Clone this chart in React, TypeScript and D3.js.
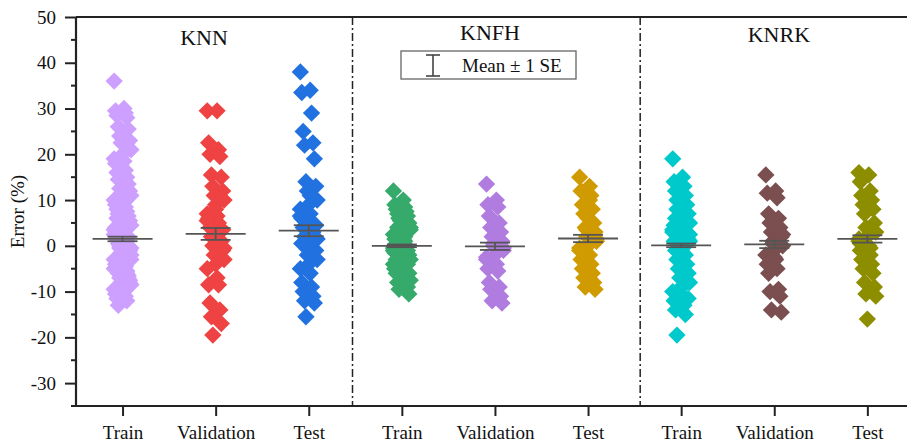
import React, { useEffect, useRef } from "react";
import * as d3 from "d3";

// groups and categories
const models = ["KNN", "KNFH", "KNRK"];
const categories = ["Train", "Validation", "Test"];

// error values (%), one array per model/category
const knnTrain = [36, 30, 29.5, 29, 28.5, 28, 26, 25.5, 24, 23, 22.5, 21, 20, 19, 18.5, 18, 16.5, 16, 15, 14.5, 13.5, 12.5, 12, 11.5, 11, 10.5, 10, 9.5, 9, 8.5, 8, 7.5, 7, 6.5, 6, 5.5, 5, 4.5, 4, 3.5, 3, 2.5, 2, 1.5, 1, 0.5, 0, -0.5, -1, -1.5, -2, -2.5, -3, -3.5, -4, -4.5, -5, -5.5, -6, -6.5, -7, -7.5, -8, -8.5, -9, -9.5, -10, -10.5, -11, -11.5, -12, -13, 2, 0, -1, 3, -3, 5, -5, 1, 4, -2, 6, -6, 7, -7, 8, -8, 1.5, -0.5, 0.5, 2.5];
const knnValidation = [29.5, 29.5, 22.5, 21, 20, 19.5, 15.5, 15, 13, 12, 11, 10, 9, 7, 6.5, 6, 5, 4, 3, 2, 1, 0, -1, -2, -3, -4, -5, -7, -8.5, -8.5, -12.5, -14, -15.5, -17, -19.5, 3.5, 1.5, -0.5, 8, 5.5];
const knnTest = [38, 34, 33.5, 29, 25, 22.5, 22, 19, 14, 13, 12, 10, 9, 8, 7, 6, 5, 4, 3, 2, 1, 0, -1, -2, -3, -4, -5, -6, -8, -9, -10, -11, -12, -12.5, -15.5, 4.5, 2.5, 1.5, -0.5, 6.5, 11, 0.5];
const knfhTrain = [12, 10, 9, 8.5, 8, 7.5, 7, 6.5, 6, 5, 4.5, 4, 3, 2.5, 2, 1.5, 1, 0.5, 0, -0.5, -1, -1.5, -2, -2.5, -3, -3.5, -4, -4.5, -5, -5.5, -6, -7, -8, -9, -9.5, -10.5, 5.5, 3.5, 1, -1, -3, -5, 2, 0, -2, 4, -4, 6, -6, 7.5, -7.5, 0.5, -0.5, 1.5, -1.5, 3, -3];
const knfhValidation = [13.5, 10, 9, 8.5, 6.5, 5, 4, 3, 2, 1, 0, -1, -2, -3, -4, -5, -5.5, -8, -9, -9.5, -11, -12, -12.5, 0.5, -0.5, 2.5, -2.5];
const knfhTest = [15, 13, 12, 11, 9, 8, 7, 5, 4, 3, 2, 1.5, 0, -1, -2, -3, -4, -5, -6, -7, -8, -9, -9.5, 3.5, 1, 6, -0.5, 10];
const knrkTrain = [19, 15, 14, 13, 12, 11, 10, 9, 8, 7, 6, 5, 4, 3, 2, 1, 0, -1, -2, -3, -4, -5, -6, -7, -8, -9, -10, -11, -12, -13, -14, -15, -19.5, 0.5, -0.5, 1.5, -1.5, 2.5, -2.5, 3.5, -3.5, 4.5, -4.5, 6, -6, 8, -8, 11.5, -11.5, 0, 1, -1];
const knrkValidation = [15.5, 12, 11.5, 10.5, 7, 6, 5, 4, 3, 2, 1, 0, -1, -2, -3, -4, -5, -6, -9.5, -10, -11, -14, -14.5, 0.5, 2.5, -2.5];
const knrkTest = [16, 15.5, 14, 12, 11, 10, 9, 8, 7, 5, 4, 3, 2, 1, 0, -1, -2, -3, -4, -5, -6, -8, -9, -10.5, -11, -16, 1.5, 2.5, 0.5, -0.5];

// mean and standard error
const means = [1.5, 2.6, 3.3, 0, -0.1, 1.6, 0.1, 0.3, 1.5];
const stdErrs = [0.5, 1.3, 1.2, 0.3, 0.8, 0.8, 0.4, 0.8, 0.8];

const colors = ["#cd9fff", "#ef4242", "#2172e0", "#36aa6b", "#b07ce0", "#d09b00", "#00c9cc", "#7b4f4f", "#8d8d00"];

const yTicks = [-30, -20, -10, 0, 10, 20, 30, 40, 50];
const separators = [3.47, 6.56];

const series = [knnTrain, knnValidation, knnTest, knfhTrain, knfhValidation, knfhTest, knrkTrain, knrkValidation, knrkTest];

const W = 907, H = 444;
const FONT = "'Liberation Serif', 'Times New Roman', serif";

const App = () => {
  const ref = useRef<SVGSVGElement>(null);

  useEffect(() => {
    const svg = d3.select(ref.current);
    svg.selectAll("*").remove();

    const left = 76, top = 17, bottom = 406;
    const x = d3.scaleLinear().domain([0.5, 9.5]).range([left, left + 9 * 93.1]);
    const y = d3.scaleLinear().domain([-35, 50]).range([bottom, top]);

    // points
    const diamond = d3.symbol().type(d3.symbolSquare).size(150)();
    series.forEach((vals, gi) => {
      const cx = x(gi + 1);
      svg
        .append("g")
        .selectAll("path")
        .data(vals)
        .join("path")
        .attr("d", diamond)
        .attr("fill", colors[gi])
        .attr("transform", (d, i) => {
          const off = (((i * 7) % 13) - 6) * 1.4;
          return `translate(${cx + off},${y(d)}) rotate(45)`;
        });
    });

    // mean +/- SE
    const eb = svg.append("g").attr("stroke", "#555").attr("stroke-width", 1.8);
    means.forEach((m, gi) => {
      const cx = x(gi + 1);
      const se = stdErrs[gi];
      eb.append("line").attr("x1", cx - 30).attr("x2", cx + 30).attr("y1", y(m)).attr("y2", y(m));
      eb.append("line").attr("x1", cx - 15).attr("x2", cx + 15).attr("y1", y(m + se)).attr("y2", y(m + se));
      eb.append("line").attr("x1", cx - 15).attr("x2", cx + 15).attr("y1", y(m - se)).attr("y2", y(m - se));
      eb.append("line").attr("x1", cx).attr("x2", cx).attr("y1", y(m + se)).attr("y2", y(m - se));
    });

    // separators
    separators.forEach((s) => {
      svg
        .append("line")
        .attr("x1", x(s))
        .attr("x2", x(s))
        .attr("y1", top)
        .attr("y2", bottom)
        .attr("stroke", "#222")
        .attr("stroke-width", 1.5)
        .attr("stroke-dasharray", "8,3,2,3");
    });

    // axes
    const yAxis = svg
      .append("g")
      .attr("transform", `translate(${left},0)`)
      .call(
        d3
          .axisLeft(y)
          .tickValues(yTicks)
          .tickFormat((d) => String(d))
          .tickSize(11)
          .tickPadding(9)
          .tickSizeOuter(0)
      );
    yAxis
      .append("g")
      .selectAll("line")
      .data(yTicks.map((t) => t - 5))
      .join("line")
      .attr("x1", -5)
      .attr("x2", 0)
      .attr("y1", (d) => y(d))
      .attr("y2", (d) => y(d))
      .attr("stroke", "#222")
      .attr("stroke-width", 2);

    const xAxis = svg
      .append("g")
      .attr("transform", `translate(0,${bottom})`)
      .call(
        d3
          .axisBottom(x)
          .tickValues(d3.range(1, 10))
          .tickFormat((d) => categories[((d as number) - 1) % 3])
          .tickSize(10)
          .tickPadding(9.5)
          .tickSizeOuter(0)
      );

    [yAxis, xAxis].forEach((a) => {
      a.select(".domain").attr("stroke", "#222").attr("stroke-width", 2.2);
      a.selectAll(".tick line").attr("stroke", "#222").attr("stroke-width", 2);
      a.selectAll("text").attr("font-family", FONT).attr("font-size", 19).attr("fill", "#111");
    });
    xAxis.select(".domain").attr("d", `M${left},0H${W}`);
    yAxis.select(".domain").attr("d", `M0,${bottom}V${top}`);

    // top frame line
    svg
      .append("line")
      .attr("x1", left)
      .attr("x2", W)
      .attr("y1", top)
      .attr("y2", top)
      .attr("stroke", "#222")
      .attr("stroke-width", 2.2);

    // group titles
    const titleX = [1.875, 4.947, 8.05];
    const titleY = [45, 40, 42];
    models.forEach((m, i) => {
      svg
        .append("text")
        .attr("x", x(titleX[i]))
        .attr("y", titleY[i])
        .attr("text-anchor", "middle")
        .attr("font-family", FONT)
        .attr("font-size", 22)
        .attr("fill", "#111")
        .text(m);
    });

    // y label
    svg
      .append("text")
      .attr("transform", `translate(24,${(top + bottom) / 2}) rotate(-90)`)
      .attr("text-anchor", "middle")
      .attr("font-family", FONT)
      .attr("font-size", 19)
      .attr("fill", "#111")
      .text("Error (%)");

    // legend
    const lg = svg.append("g");
    lg.append("rect")
      .attr("x", 401)
      .attr("y", 51)
      .attr("width", 175)
      .attr("height", 28)
      .attr("fill", "white")
      .attr("stroke", "#666")
      .attr("stroke-width", 1.3);
    const ic = lg.append("g").attr("stroke", "#444").attr("stroke-width", 1.6);
    ic.append("line").attr("x1", 433).attr("x2", 433).attr("y1", 55).attr("y2", 76);
    ic.append("line").attr("x1", 426).attr("x2", 440).attr("y1", 55).attr("y2", 55);
    ic.append("line").attr("x1", 426).attr("x2", 440).attr("y1", 76).attr("y2", 76);
    lg.append("text")
      .attr("x", 462)
      .attr("y", 72)
      .attr("font-family", FONT)
      .attr("font-size", 19)
      .attr("fill", "#111")
      .text("Mean ± 1 SE");
  }, []);

  return (
    <svg
      ref={ref}
      width={W}
      height={H}
      style={{ position: "absolute", left: 0, top: 0, background: "white" }}
    />
  );
};

export default App;
